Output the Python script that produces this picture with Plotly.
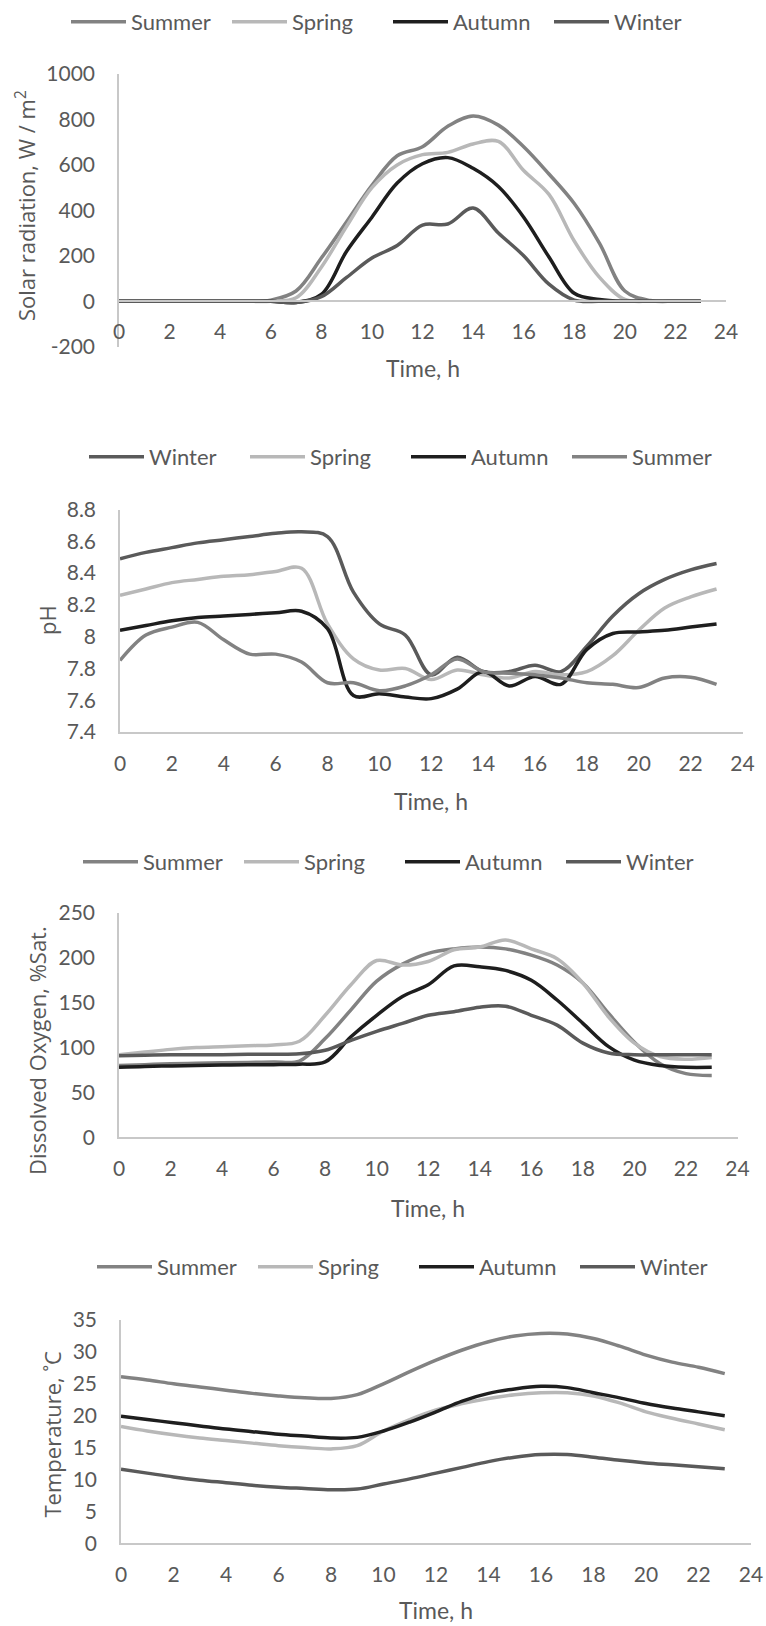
import plotly.graph_objects as go

# Hour of day for every series
hours = list(range(24))

# Solar radiation, W/m2
solar_summer = [0, 0, 0, 0, 0, 0, 5, 45, 190, 350, 510, 640, 680, 770, 815, 775, 680, 560, 430, 255, 45, 3, 0, 0]
solar_spring = [0, 0, 0, 0, 0, 0, 0, 15, 150, 330, 500, 600, 645, 655, 692, 703, 575, 470, 265, 105, 8, 0, 0, 0]
solar_autumn = [0, 0, 0, 0, 0, 0, 0, -5, 30, 220, 370, 520, 605, 632, 585, 505, 370, 195, 35, 8, 0, 0, 0, 0]
solar_winter = [0, 0, 0, 0, 0, 0, 0, -5, 20, 105, 190, 245, 335, 340, 410, 300, 200, 75, 5, 0, 0, 0, 0, 0]

# pH
ph_winter = [8.49, 8.53, 8.56, 8.59, 8.61, 8.63, 8.65, 8.66, 8.63, 8.28, 8.08, 8.01, 7.76, 7.87, 7.78, 7.78, 7.82, 7.78, 7.94, 8.13, 8.27, 8.36, 8.42, 8.46]
ph_spring = [8.26, 8.30, 8.34, 8.36, 8.38, 8.39, 8.41, 8.43, 8.08, 7.86, 7.79, 7.80, 7.73, 7.79, 7.76, 7.74, 7.78, 7.76, 7.78, 7.88, 8.04, 8.18, 8.25, 8.30]
ph_autumn = [8.04, 8.07, 8.10, 8.12, 8.13, 8.14, 8.15, 8.16, 8.05, 7.63, 7.64, 7.62, 7.61, 7.67, 7.78, 7.69, 7.75, 7.70, 7.92, 8.02, 8.03, 8.04, 8.06, 8.08]
ph_summer = [7.85, 8.01, 8.06, 8.09, 7.98, 7.89, 7.89, 7.84, 7.71, 7.71, 7.66, 7.69, 7.76, 7.86, 7.78, 7.77, 7.76, 7.74, 7.71, 7.70, 7.68, 7.74, 7.745, 7.70]

# Dissolved oxygen, % saturation
do_summer = [80, 81, 82, 82.5, 83, 83.5, 84, 85, 110, 142, 174, 193, 205, 210, 212, 210, 203, 192, 172, 138, 106, 82, 71, 69]
do_spring = [92, 95, 98, 100, 101, 102, 103, 107, 136, 170, 197, 192, 196, 209, 212, 220, 210, 199, 172, 134, 105, 90, 87, 89]
do_autumn = [78, 79, 79.5, 80, 80.5, 81, 81, 81.5, 84, 112, 136, 157, 170, 191, 190, 186, 175, 153, 127, 101, 86, 80, 78, 78]
do_winter = [91, 91.5, 92, 92, 92, 92.5, 92.5, 93, 97, 108, 118, 127, 136, 140, 145, 146, 136, 125, 105, 94, 92, 92, 92, 92]

# Water temperature, degC
temp_summer = [26.1, 25.6, 25.0, 24.5, 24.0, 23.5, 23.1, 22.8, 22.7, 23.3, 25.0, 26.9, 28.7, 30.3, 31.6, 32.5, 32.9, 32.8, 32.1, 30.9, 29.5, 28.4, 27.6, 26.6]
temp_spring = [18.3, 17.6, 17.0, 16.5, 16.1, 15.7, 15.3, 15.0, 14.8, 15.3, 17.6, 19.4, 20.9, 21.9, 22.7, 23.3, 23.6, 23.6, 23.1, 22.0, 20.6, 19.6, 18.7, 17.8]
temp_autumn = [19.9, 19.4, 18.9, 18.4, 17.9, 17.5, 17.1, 16.8, 16.5, 16.6, 17.6, 19.0, 20.6, 22.3, 23.5, 24.2, 24.6, 24.4, 23.6, 22.8, 21.9, 21.2, 20.6, 20.0]
temp_winter = [11.6, 11.0, 10.4, 9.9, 9.5, 9.1, 8.8, 8.6, 8.4, 8.5, 9.3, 10.1, 11.0, 11.9, 12.8, 13.5, 13.9, 13.9, 13.5, 13.0, 12.6, 12.3, 12.0, 11.7]

x_ticks = list(range(0, 25, 2))
solar_ticks = [-200, 0, 200, 400, 600, 800, 1000]
ph_ticks = [7.4, 7.6, 7.8, 8.0, 8.2, 8.4, 8.6, 8.8]
do_ticks = [0, 50, 100, 150, 200, 250]
temp_ticks = [0, 5, 10, 15, 20, 25, 30, 35]

colors = {"Summer": "#828282", "Spring": "#b8b8b8", "Autumn": "#1e1e1e", "Winter": "#5a5a5a"}
TXT = "#595959"
AXIS = "#c8c8c8"
TICK_FONT = dict(family="Lato, sans-serif", size=21, color=TXT)
LEGEND_FONT = dict(family="Lato, sans-serif", size=22, color=TXT)
TITLE_FONT = dict(family="Open Sans, sans-serif", size=22, color=TXT)
XTITLE_FONT = dict(family="Lato, sans-serif", size=23, color=TXT)

W, H = 766, 1626


def fx(px):
    return px / W


def fy(px):
    return 1 - px / H


def label(v):
    return f"{v:g}"


# Pixel frame of each panel: left/right of the 0..24 h span, top/bottom of the y range
panels = [
    dict(series={"Summer": solar_summer, "Spring": solar_spring,
                 "Autumn": solar_autumn, "Winter": solar_winter},
         order=["Summer", "Spring", "Autumn", "Winter"],
         x0=119, x1=726, top=74, bot=346.7, ticks=solar_ticks, cross=0,
         ytitle="Solar radiation, W / m<sup>2</sup>", ytitle_x=25, ytitle_y=206,
         xtitle_y=368, legend_left=72, legend_y=22),
    dict(series={"Winter": ph_winter, "Spring": ph_spring,
                 "Autumn": ph_autumn, "Summer": ph_summer},
         order=["Winter", "Spring", "Autumn", "Summer"],
         x0=120, x1=742.5, top=509.5, bot=732, ticks=ph_ticks, cross=None,
         ytitle="pH", ytitle_x=47, ytitle_y=620,
         xtitle_y=801, legend_left=90, legend_y=457),
    dict(series={"Summer": do_summer, "Spring": do_spring,
                 "Autumn": do_autumn, "Winter": do_winter},
         order=["Summer", "Spring", "Autumn", "Winter"],
         x0=119, x1=737.5, top=913, bot=1137.3, ticks=do_ticks, cross=None,
         ytitle="Dissolved Oxygen, %Sat.", ytitle_x=37, ytitle_y=1051,
         xtitle_y=1208, legend_left=84, legend_y=862),
    dict(series={"Summer": temp_summer, "Spring": temp_spring,
                 "Autumn": temp_autumn, "Winter": temp_winter},
         order=["Summer", "Spring", "Autumn", "Winter"],
         x0=121, x1=751, top=1320, bot=1543.3, ticks=temp_ticks, cross=None,
         ytitle="Temperature, \u02daC", ytitle_x=51.5, ytitle_y=1434,
         xtitle_y=None, legend_left=98, legend_y=1267),
]

fig = go.Figure()
layout = dict(width=W, height=H, margin=dict(l=0, r=0, t=0, b=0, autoexpand=False),
              paper_bgcolor="white", plot_bgcolor="white", showlegend=True,
              annotations=[])

for i, p in enumerate(panels, start=1):
    xa = "x" if i == 1 else f"x{i}"
    ya = "y" if i == 1 else f"y{i}"
    lg = "legend" if i == 1 else f"legend{i}"
    for s in p["order"]:
        fig.add_trace(go.Scatter(
            x=hours, y=p["series"][s], name=s, mode="lines",
            line=dict(color=colors[s], width=3.5, shape="spline", smoothing=1.0),
            xaxis=xa, yaxis=ya, legend=lg, hoverinfo="skip"))

    ymin, ymax = p["ticks"][0], p["ticks"][-1]
    xdom = [fx(p["x0"]), fx(p["x1"])]
    ydom = [fy(p["bot"]), fy(p["top"])]

    xaxis = dict(domain=xdom, range=[0, 24], tickvals=x_ticks,
                 ticktext=[str(t) for t in x_ticks], showgrid=False, zeroline=False,
                 showline=True, linecolor=AXIS, linewidth=1.5,
                 ticks="outside", ticklen=12, tickcolor="rgba(0,0,0,0)",
                 tickfont=TICK_FONT, fixedrange=True, automargin=False)
    if p["cross"] is not None:
        # horizontal axis drawn where y = 0, labels hang just below it
        frac = (p["cross"] - ymin) / (ymax - ymin)
        xaxis.update(anchor="free", position=ydom[0] + frac * (ydom[1] - ydom[0]))
    else:
        xaxis.update(anchor=ya)

    yaxis = dict(domain=ydom, range=[ymin, ymax], tickvals=p["ticks"],
                 ticktext=[label(t) for t in p["ticks"]], showgrid=False, zeroline=False,
                 showline=True, linecolor=AXIS, linewidth=1.5, anchor=xa,
                 ticks="outside", ticklen=18, tickcolor="rgba(0,0,0,0)",
                 tickfont=TICK_FONT, fixedrange=True, automargin=False)

    layout["xaxis" if i == 1 else f"xaxis{i}"] = xaxis
    layout["yaxis" if i == 1 else f"yaxis{i}"] = yaxis
    layout[lg] = dict(orientation="h", x=fx(p["legend_left"] - 6), y=fy(p["legend_y"]),
                      xanchor="left", yanchor="middle", font=LEGEND_FONT,
                      itemwidth=55, entrywidth=91, entrywidthmode="pixels",
                      tracegroupgap=0, bgcolor="rgba(0,0,0,0)",
                      itemclick=False, itemdoubleclick=False)

    layout["annotations"].append(dict(
        text=p["ytitle"], x=fx(p["ytitle_x"]), y=fy(p["ytitle_y"]), xref="paper", yref="paper",
        textangle=-90, showarrow=False, xanchor="center", yanchor="middle", font=TITLE_FONT))
    if p["xtitle_y"] is None:
        # last panel: title sits on the bottom edge of the page
        layout["annotations"].append(dict(
            text="Time, h", x=(xdom[0] + xdom[1]) / 2, y=0, xref="paper", yref="paper",
            showarrow=False, xanchor="center", yanchor="bottom", font=XTITLE_FONT))
    else:
        layout["annotations"].append(dict(
            text="Time, h", x=(xdom[0] + xdom[1]) / 2, y=fy(p["xtitle_y"]), xref="paper",
            yref="paper", showarrow=False, xanchor="center", yanchor="middle",
            font=XTITLE_FONT))

fig.update_layout(**layout)
fig.write_html("out.html", config={"displayModeBar": False})
